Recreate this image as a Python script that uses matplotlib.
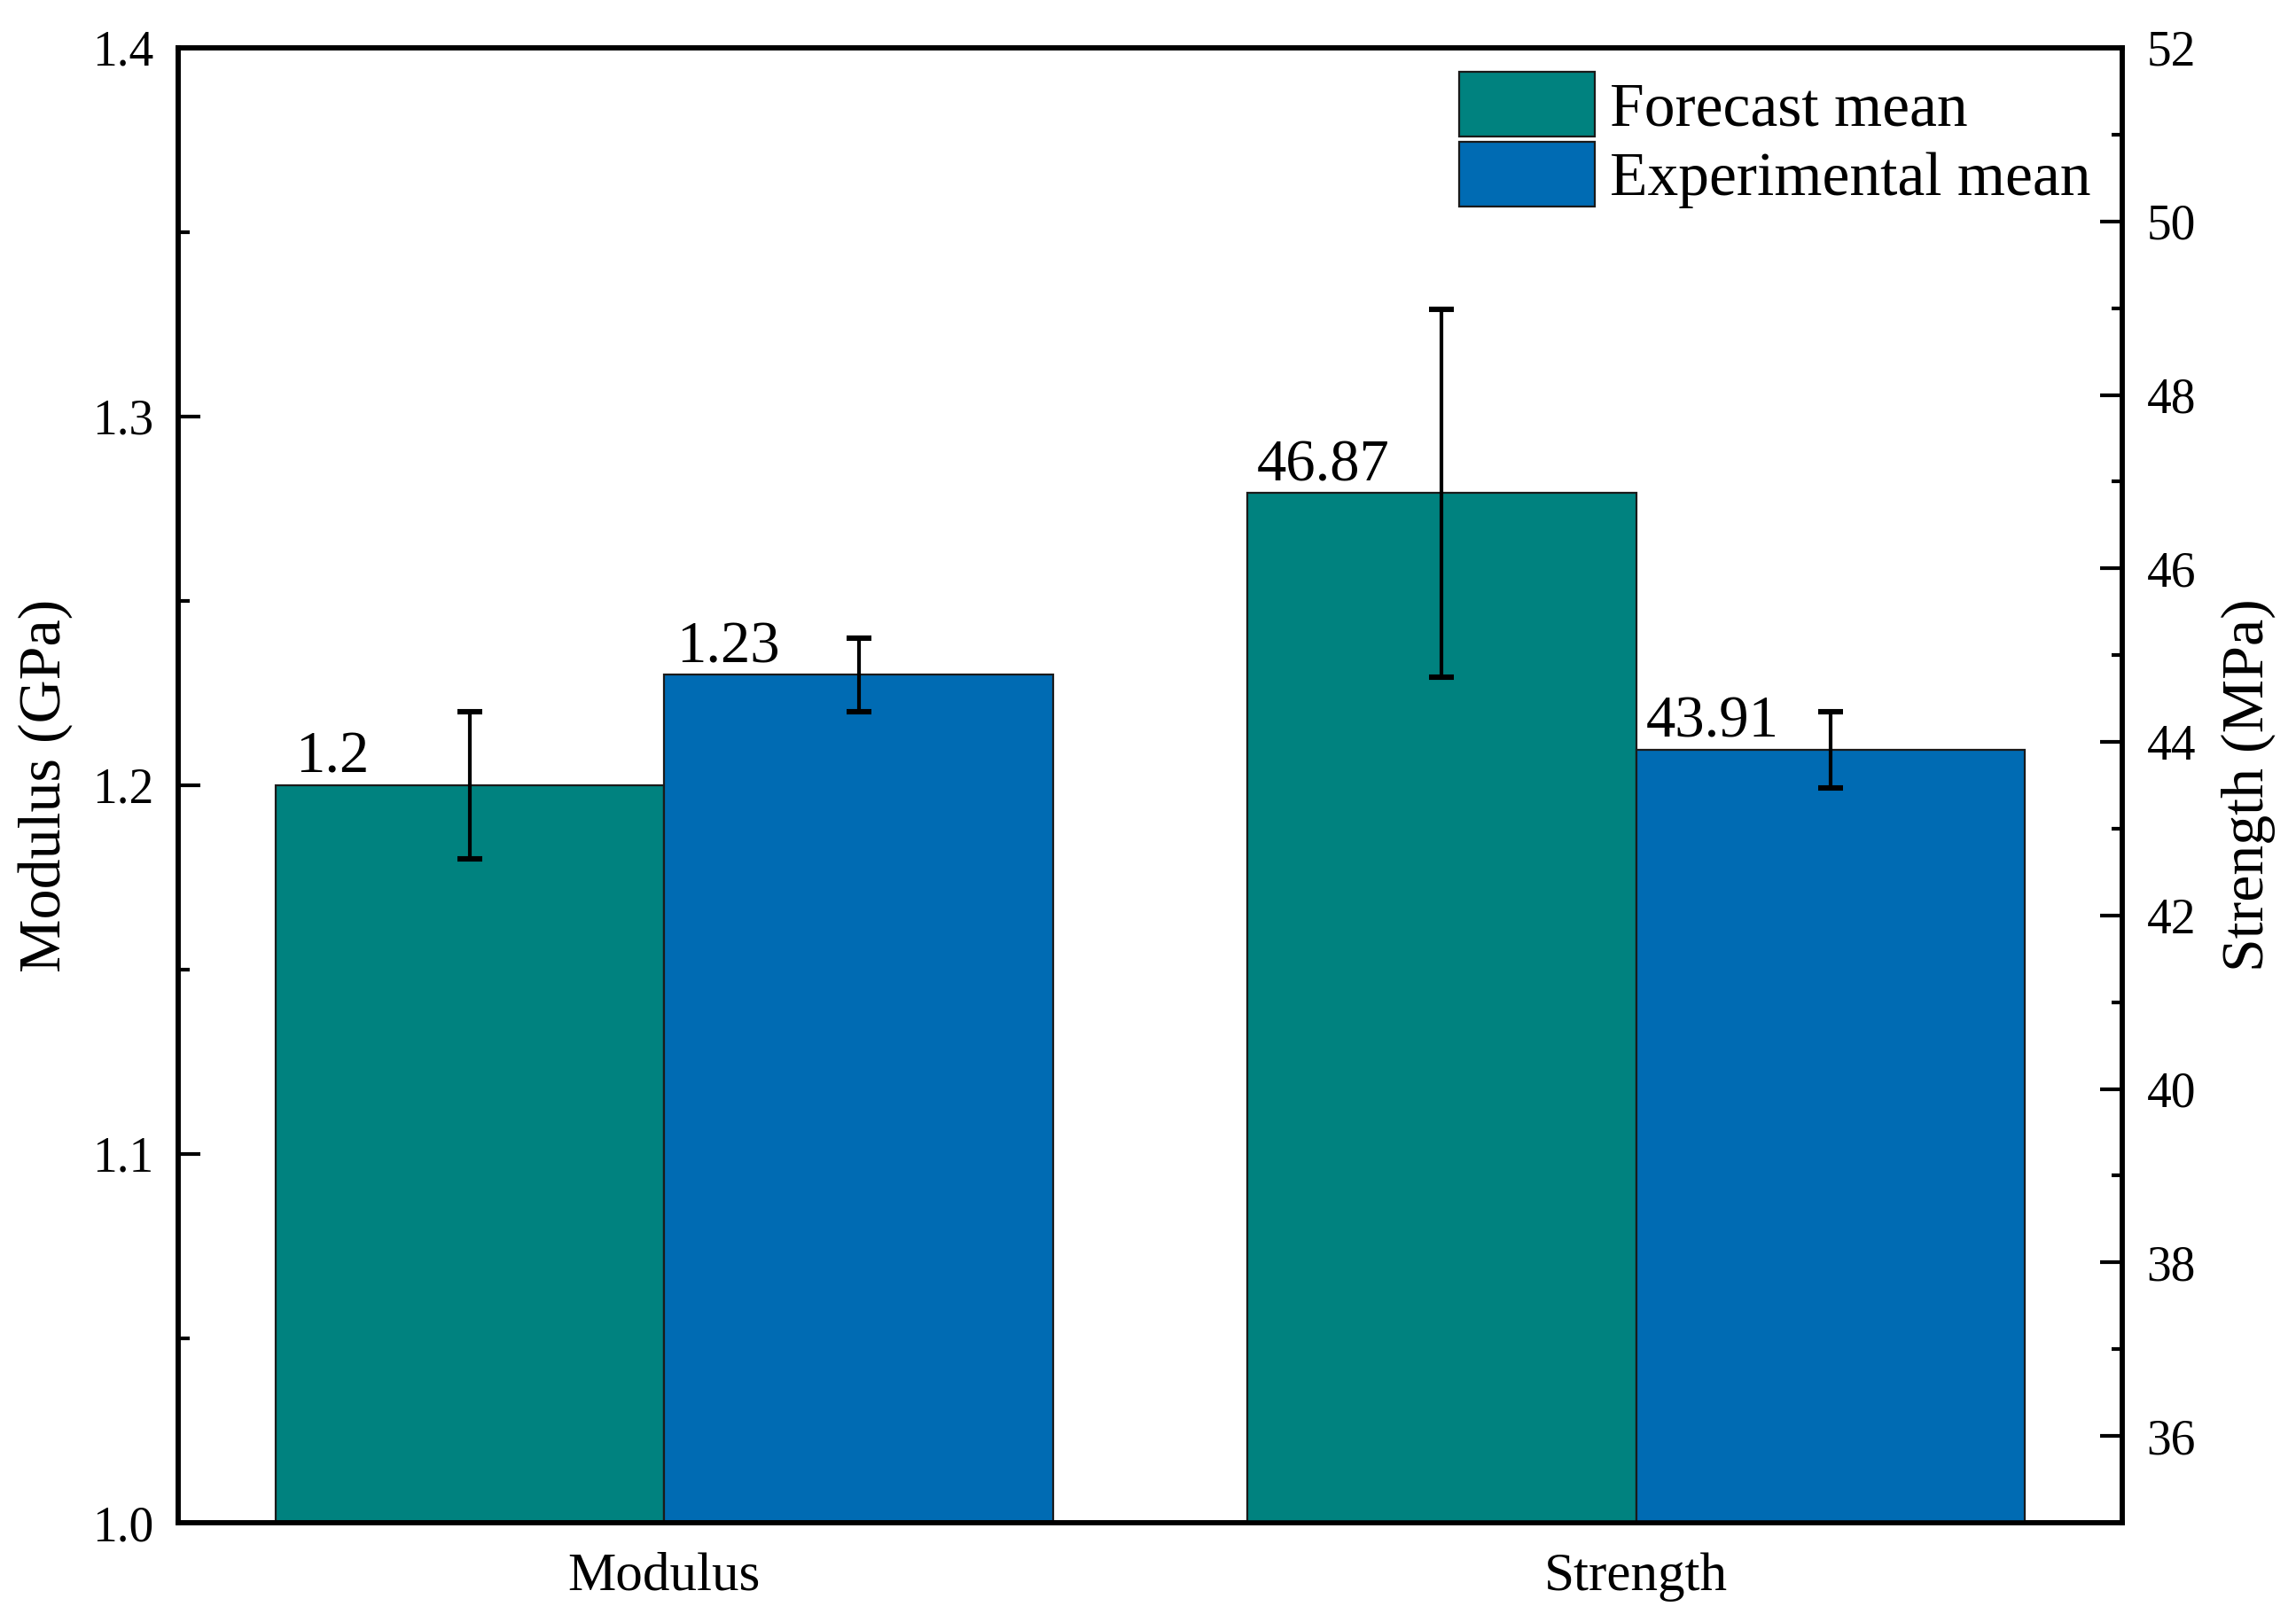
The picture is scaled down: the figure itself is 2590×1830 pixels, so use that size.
import numpy as np
import matplotlib
matplotlib.use("Agg")
import matplotlib.pyplot as plt

plt.rcParams['font.family'] = ['Liberation Serif', 'DejaVu Serif']

# categories and series
categories = ['Modulus', 'Strength']
series = ['Forecast mean', 'Experimental mean']

# modulus values (GPa), left axis
modulus_mean = [1.2, 1.23]
modulus_err = [0.02, 0.01]
modulus_text = ['1.2', '1.23']

# strength values (MPa), right axis
strength_mean = [46.87, 43.91]
strength_err = [2.12, 0.44]
strength_text = ['46.87', '43.91']

colors = ['#00827F', '#006BB3']
width = 0.4

fig = plt.figure(figsize=(12.95, 9.15), dpi=200)
ax = fig.add_axes([0.0776, 0.0612, 0.8467, 0.9093])
ax2 = ax.twinx()

x = np.arange(1, len(categories) + 1)
offsets = [-width / 2, width / 2]
# small shifts of the value labels from the bar's left edge (points)
text_dx = [8, 5]

bars = []
# modulus group on left axis
for i in range(2):
    b = ax.bar(x[0] + offsets[i], modulus_mean[i], width, bottom=0,
               color=colors[i], edgecolor='#1a1a1a', linewidth=0.8, label=series[i])
    bars.append(b)
    ax.errorbar(x[0] + offsets[i], modulus_mean[i], yerr=modulus_err[i], fmt='none',
                ecolor='black', elinewidth=1.5, capsize=5, capthick=2.2)
    ax.annotate(modulus_text[i], (x[0] + offsets[i] - width / 2, modulus_mean[i]),
                xytext=(text_dx[i], 0), textcoords='offset points', ha='left', va='bottom',
                fontsize=24)

# strength group on right axis
for i in range(2):
    ax2.bar(x[1] + offsets[i], strength_mean[i], width, bottom=0,
            color=colors[i], edgecolor='#1a1a1a', linewidth=0.8)
    ax2.errorbar(x[1] + offsets[i], strength_mean[i], yerr=strength_err[i], fmt='none',
                 ecolor='black', elinewidth=1.5, capsize=5, capthick=2.2)
    ax2.annotate(strength_text[i], (x[1] + offsets[i] - width / 2, strength_mean[i]),
                 xytext=(4, 0), textcoords='offset points', ha='left', va='bottom',
                 fontsize=24)

ax.set_xlim(0.5, 2.5)
ax.set_ylim(1.0, 1.4)
ax2.set_ylim(35, 52)

ax.set_xticks(x)
ax.set_xticklabels(categories, fontsize=22)
ax.tick_params(axis='x', length=0, pad=12)

ax.set_yticks([1.0, 1.1, 1.2, 1.3, 1.4])
ax.set_yticks(np.arange(1.05, 1.4, 0.1), minor=True)
ax.set_yticklabels(['1.0', '1.1', '1.2', '1.3', '1.4'])
ax.tick_params(axis='y', which='major', direction='in', length=9, width=1.5,
               labelsize=20, pad=10)
ax.tick_params(axis='y', which='minor', direction='in', length=4.5, width=1.5)

ax2.set_yticks([36, 38, 40, 42, 44, 46, 48, 50, 52])
ax2.set_yticks(np.arange(37, 52, 2), minor=True)
ax2.tick_params(axis='y', which='major', direction='in', length=9, width=1.5,
                labelsize=20, pad=10)
ax2.tick_params(axis='y', which='minor', direction='in', length=4.5, width=1.5)

ax.set_ylabel('Modulus (GPa)', fontsize=24.5, labelpad=8)
ax2.set_ylabel('Strength (MPa)', fontsize=24.5, rotation=90, labelpad=10)

for a in (ax, ax2):
    for s in a.spines.values():
        s.set_linewidth(2)

leg = ax2.legend(handles=[bars[0], bars[1]], labels=series, loc='upper right',
                 frameon=False, fontsize=25, handlelength=2.2, handleheight=1.25,
                 labelspacing=0.05, handletextpad=0.25, borderaxespad=0.3,
                 bbox_to_anchor=(1.006, 1.013))

fig.savefig('out.png', dpi=200)
